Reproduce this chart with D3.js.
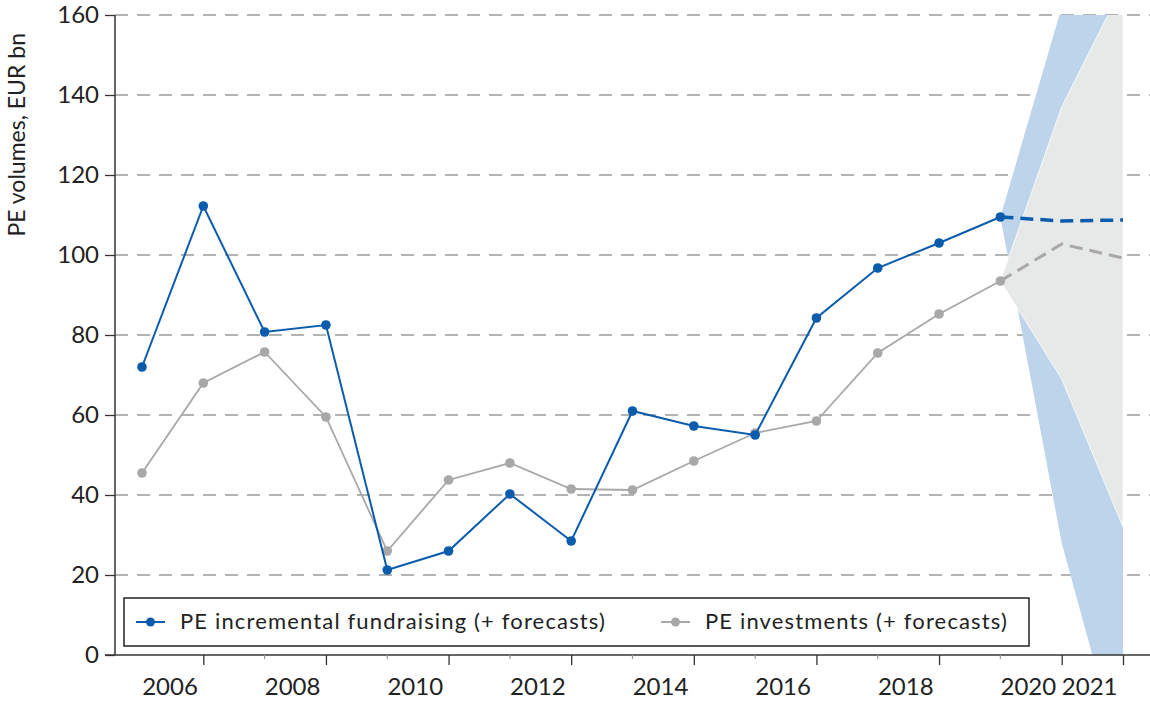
<!DOCTYPE html>
<html><head><meta charset="utf-8">
<script src="https://cdn.jsdelivr.net/npm/d3@7"></script>
<style>
body{margin:0;background:#fff;}
text{font-family:Lato,"Noto Sans",sans-serif;fill:#222;}
</style></head>
<body>
<svg id="c" width="1150" height="705"></svg>
<script>
const years = [2005,2006,2007,2008,2009,2010,2011,2012,2013,2014,2015,2016,2017,2018,2019];
const fundraising = [72,112.25,80.75,82.5,21.25,26,40.25,28.5,61,57.25,55,84.25,96.75,103,109.5];
const investments = [45.5,68,75.75,59.5,26,43.75,48,41.5,41.25,48.5,55.5,58.5,75.5,85.25,93.5];
const fcYears = [2019,2020,2021];
const fundraisingFc = [109.5,108.5,108.75];
const investmentsFc = [93.5,102.75,99.25];
const fundBandLow = [109.5,28,-28];
const fundBandHigh = [109.5,162,210];
const invBandLow = [93.5,69,32];
const invBandHigh = [93.5,137,167.5];
const yTicks = [0,20,40,60,80,100,120,140,160];
const xMajor = [2006,2008,2010,2012,2014,2016,2018,2020,2021];
const xMinor = [2007,2009,2011,2013,2015,2017,2019];
const legendLabels = ["PE incremental fundraising (+ forecasts)","PE investments (+ forecasts)"];

const blue = "#0b5cad", grey = "#a8a8a8";
const svg = d3.select("#c");
const L = 115, R = 1150, T = 15, B = 655;
const x = d3.scaleLinear().domain([2005,2021]).range([142,1123]);
const y = d3.scaleLinear().domain([0,160]).range([B,T]);

svg.append("defs").append("clipPath").attr("id","clip")
  .append("rect").attr("x",L).attr("y",T).attr("width",R-L).attr("height",B-T);

// grid
svg.append("g").selectAll("line").data(yTicks.filter(d=>d>0)).join("line")
  .attr("x1",L).attr("x2",R).attr("y1",d=>y(d)).attr("y2",d=>y(d))
  .attr("stroke","#9a9a9a").attr("stroke-width",1.3).attr("stroke-dasharray","13,9");

// bands
const area = (lo,hi)=>d3.area().x((d,i)=>x(fcYears[i])).y0((d,i)=>y(lo[i])).y1((d,i)=>y(hi[i]));
const bands = svg.append("g").attr("clip-path","url(#clip)");
bands.append("path").datum(fcYears).attr("d",area(fundBandLow,fundBandHigh)).attr("fill","#bdd4ea");
bands.append("path").datum(fcYears).attr("d",area(invBandLow,invBandHigh)).attr("fill","#e7e8e8")
  .attr("stroke","#fff").attr("stroke-width",0.8);

// axes
const yAxis = svg.append("g").attr("transform",`translate(${L},0)`)
  .call(d3.axisLeft(y).tickValues(yTicks).tickSize(10).tickPadding(6));
yAxis.select(".domain").attr("stroke","#333").attr("stroke-width",1.5).attr("d",`M0,${T}V${B}`);
yAxis.selectAll(".tick line").attr("stroke","#333").attr("stroke-width",1.3);
yAxis.selectAll("text").attr("font-size",24).style("fill","#222");

svg.append("line").attr("x1",105).attr("x2",R).attr("y1",B).attr("y2",B).attr("stroke","#333").attr("stroke-width",1.5);
const xAxis = svg.append("g").attr("transform",`translate(0,${B})`)
  .call(d3.axisBottom(x).tickValues(xMajor).tickFormat(d3.format("d")).tickSize(10));
xAxis.select(".domain").remove();
xAxis.selectAll(".tick line").attr("stroke","#333").attr("stroke-width",1.3);
xAxis.selectAll("text").attr("font-size",24).style("fill","#222")
  .attr("text-anchor","end").attr("x",-6).attr("y",40).attr("dy",0);
svg.append("g").selectAll("line").data(xMinor).join("line")
  .attr("x1",d=>x(d)).attr("x2",d=>x(d)).attr("y1",B).attr("y2",B+4)
  .attr("stroke","#999").attr("stroke-width",1.2);

svg.append("text").attr("transform","translate(25,33) rotate(-90)").attr("text-anchor","end")
  .attr("font-size",23).text("PE volumes, EUR bn");

// lines
const line = d3.line().x(d=>x(d[0])).y(d=>y(d[1]));
svg.append("path").datum(d3.zip(fcYears,investmentsFc)).attr("d",line).attr("fill","none")
  .attr("stroke",grey).attr("stroke-width",3).attr("stroke-dasharray","13,7");
svg.append("path").datum(d3.zip(fcYears,fundraisingFc)).attr("d",line).attr("fill","none")
  .attr("stroke",blue).attr("stroke-width",3.5).attr("stroke-dasharray","13,7");
svg.append("path").datum(d3.zip(years,investments)).attr("d",line).attr("fill","none")
  .attr("stroke",grey).attr("stroke-width",1.8);
svg.append("g").selectAll("circle").data(d3.zip(years,investments)).join("circle")
  .attr("cx",d=>x(d[0])).attr("cy",d=>y(d[1])).attr("r",4.8).attr("fill",grey);
svg.append("path").datum(d3.zip(years,fundraising)).attr("d",line).attr("fill","none")
  .attr("stroke",blue).attr("stroke-width",2);
svg.append("g").selectAll("circle").data(d3.zip(years,fundraising)).join("circle")
  .attr("cx",d=>x(d[0])).attr("cy",d=>y(d[1])).attr("r",4.8).attr("fill",blue);

// legend
svg.append("rect").attr("x",124).attr("y",598).attr("width",905).attr("height",48)
  .attr("fill","#fff").attr("stroke","#222").attr("stroke-width",1.5);
const leg = [{x:136,c:blue,tx:180,t:legendLabels[0]},{x:661,c:grey,tx:705,t:legendLabels[1]}];
leg.forEach(l=>{
  svg.append("line").attr("x1",l.x).attr("x2",l.x+29).attr("y1",622).attr("y2",622).attr("stroke",l.c).attr("stroke-width",2);
  svg.append("circle").attr("cx",l.x+14.5).attr("cy",622).attr("r",4.5).attr("fill",l.c);
  svg.append("text").attr("x",l.tx).attr("y",629).attr("font-size",22).attr("letter-spacing",1.15).text(l.t);
});
</script>
</body></html>
